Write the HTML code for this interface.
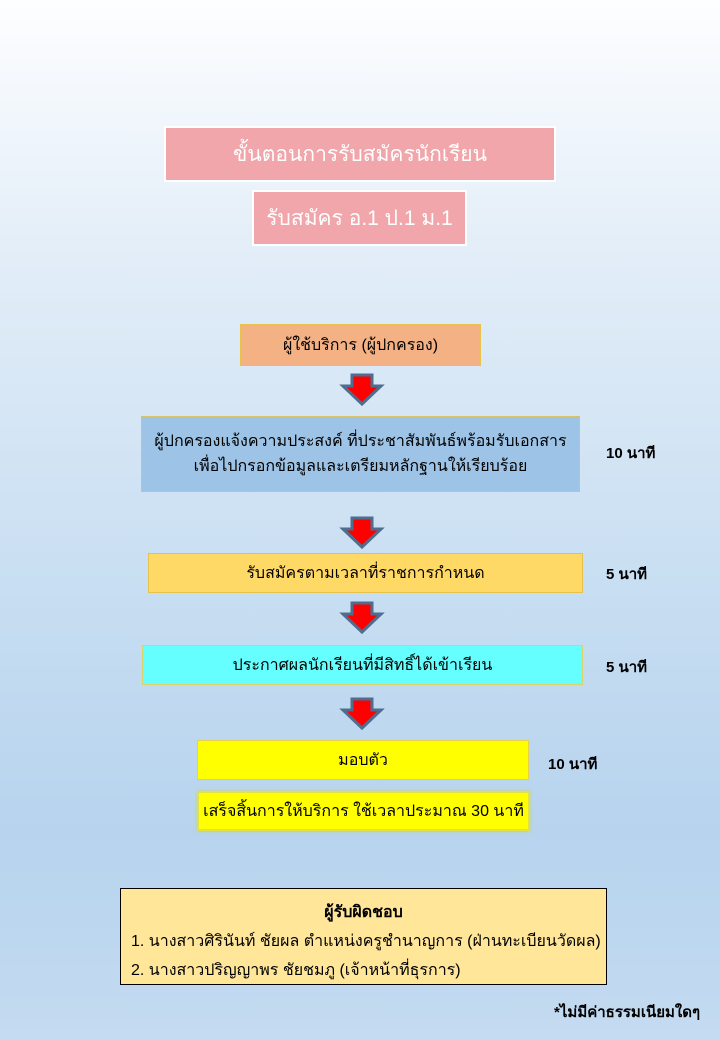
<!DOCTYPE html>
<html><head><meta charset="utf-8"><style>
body{margin:0;width:720px;height:1040px;position:relative;overflow:hidden;
background:linear-gradient(180deg,#fdfeff 0%,#e2edf8 25%,#c9dff2 55%,#b7d3ee 80%,#c4dbf1 100%);
font-family:"Liberation Sans","DejaVu Sans",sans-serif;color:#000;}
.b{position:absolute;box-sizing:border-box;display:flex;align-items:center;justify-content:center;text-align:center;font-size:16px;}
.t{position:absolute;font-size:15px;font-weight:bold;}
svg{position:absolute;}
</style></head><body>
<div class="b" style="left:164px;top:126px;width:392px;height:56px;background:#f0a6ab;border:2px solid #fff;color:#fff;font-size:21px;">ขั้นตอนการรับสมัครนักเรียน</div>
<div class="b" style="left:252px;top:190px;width:215px;height:56px;background:#f0a6ab;border:2px solid #fff;color:#fff;font-size:21px;">รับสมัคร อ.1 ป.1 ม.1</div>

<div class="b" style="left:240px;top:324px;width:241px;height:42px;background:#f4b183;border:1.5px solid #e8c24a;">ผู้ใช้บริการ (ผู้ปกครอง)</div>
<div class="b" style="left:141px;top:416px;width:439px;height:76px;background:#9dc3e6;border:1.5px solid #d9c26a;line-height:25px;">ผู้ปกครองแจ้งความประสงค์ ที่ประชาสัมพันธ์พร้อมรับเอกสาร<br>เพื่อไปกรอกข้อมูลและเตรียมหลักฐานให้เรียบร้อย</div>
<div class="t" style="left:606px;top:441px;">10 นาที</div>
<div class="b" style="left:148px;top:553px;width:435px;height:40px;background:#ffd966;border:1px solid #e6c24a;">รับสมัครตามเวลาที่ราชการกำหนด</div>
<div class="t" style="left:606px;top:562px;">5 นาที</div>
<div class="b" style="left:142px;top:645px;width:441px;height:40px;background:#66ffff;border:1px solid #d9d36a;">ประกาศผลนักเรียนที่มีสิทธิ์ได้เข้าเรียน</div>
<div class="t" style="left:606px;top:655px;">5 นาที</div>
<div class="b" style="left:197px;top:740px;width:332px;height:40px;background:#ffff00;border:1px solid #e6d24a;">มอบตัว</div>
<div class="t" style="left:548px;top:752px;">10 นาที</div>
<div class="b" style="left:197px;top:791px;width:333px;height:40px;background:#ffff00;border:2px solid #e2e04a;box-shadow:0 0 3px #c8d84a;">เสร็จสิ้นการให้บริการ ใช้เวลาประมาณ 30 นาที</div>

<svg width="720" height="1040" style="left:0;top:0">
<defs><g id="a"><polygon points="-10,0 10,0 10,11 19,11 0,29 -19,11 -10,11" fill="#ff0000" stroke="#4f6d8f" stroke-width="3" stroke-linejoin="miter"/></g></defs>
<use href="#a" x="362" y="375"/>
<use href="#a" x="362" y="518"/>
<use href="#a" x="362" y="603"/>
<use href="#a" x="362" y="699"/>
</svg>

<div style="position:absolute;left:120px;top:888px;width:487px;height:97px;box-sizing:border-box;background:#ffe699;border:1px solid #000;font-size:16px;">
<div style="text-align:center;font-weight:bold;margin-top:11px;">ผู้รับผิดชอบ</div>
<div style="margin-left:10px;margin-top:4px;">1. นางสาวศิรินันท์ ชัยผล ตำแหน่งครูชำนาญการ (ฝ่านทะเบียนวัดผล)</div>
<div style="margin-left:10px;margin-top:4px;">2. นางสาวปริญญาพร ชัยชมภู (เจ้าหน้าที่ธุรการ)</div>
</div>
<div class="t" style="right:20px;top:1000px;">*ไม่มีค่าธรรมเนียมใดๆ</div>
</body></html>
